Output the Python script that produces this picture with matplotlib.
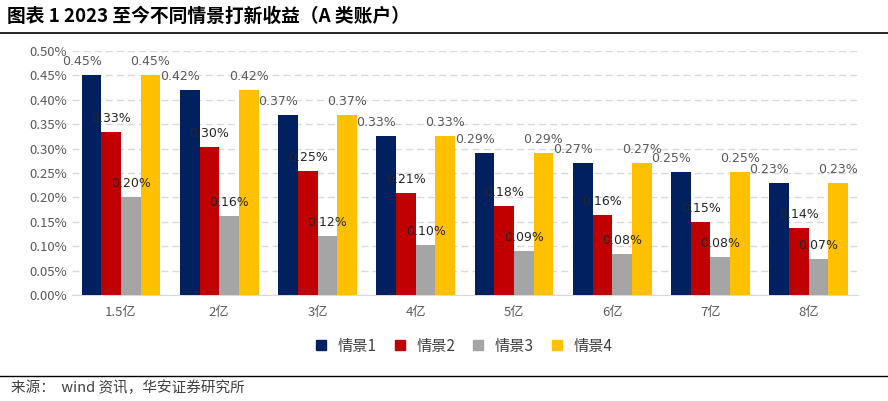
import matplotlib
matplotlib.use("Agg")
import matplotlib.pyplot as plt
import numpy as np
from matplotlib.ticker import FuncFormatter, MultipleLocator
from matplotlib.lines import Line2D

plt.rcParams['font.family'] = ['Noto Sans CJK SC', 'DejaVu Sans']

categories = ["1.5亿", "2亿", "3亿", "4亿", "5亿", "6亿", "7亿", "8亿"]
series_names = ["情景1", "情景2", "情景3", "情景4"]
s1 = [0.451, 0.420, 0.369, 0.326, 0.291, 0.270, 0.252, 0.229]
s2 = [0.334, 0.303, 0.254, 0.209, 0.182, 0.164, 0.149, 0.137]
s3 = [0.200, 0.162, 0.121, 0.102, 0.090, 0.084, 0.078, 0.074]
s4 = [0.451, 0.420, 0.369, 0.326, 0.291, 0.270, 0.252, 0.229]
colors = ["#002060", "#C00000", "#A5A5A5", "#FFC000"]

fig = plt.figure(figsize=(8.88, 4.01), dpi=100)
ax = fig.add_axes([0.081, 0.264, 0.885, 0.609])

x = np.arange(len(categories))
w = 0.2
all_series = [s1, s2, s3, s4]
for i, (vals, c) in enumerate(zip(all_series, colors)):
    pos = x + (i - 1.5) * w
    ax.bar(pos, vals, width=w, color=c, label=series_names[i], zorder=3)
    for p, v in zip(pos, vals):
        dx = -0.1 if i == 0 else 0.0
        col = "#595959" if i in (0, 3) else "#262626"
        ax.text(p + dx, v + 0.015, f"{v:.2f}%", ha="center", va="bottom",
                fontsize=9, color=col, zorder=4, family=['DejaVu Sans'])

ax.set_xlim(-0.5, len(categories) - 0.5)
ax.set_ylim(0, 0.5)
ax.yaxis.set_major_locator(MultipleLocator(0.05))
ax.yaxis.set_major_formatter(FuncFormatter(lambda v, p: f"{v:.2f}%"))
ax.set_xticks(x)
ax.set_xticklabels(categories)
ax.tick_params(axis="both", length=0, labelsize=9.5, colors="#595959")
ax.tick_params(axis="x", pad=8)
ax.grid(axis="y", linestyle=(0, (5, 3)), color="#D9D9D9", linewidth=1, zorder=0)
for sp in ["top", "right", "left"]:
    ax.spines[sp].set_visible(False)
ax.spines["bottom"].set_color("#D9D9D9")

handles = [Line2D([0], [0], marker="s", linestyle="none", markersize=7,
                  markerfacecolor=c, markeredgecolor=c) for c in colors]
fig.legend(handles, series_names, loc="center", bbox_to_anchor=(0.517, 0.137),
           ncol=4, frameon=False, fontsize=11, handletextpad=0.1, columnspacing=0.5,
           labelcolor="#404040")

fig.text(0.008, 0.958, "图表 1 2023 至今不同情景打新收益（A 类账户）", fontsize=13.5,
         fontweight="bold", va="center", ha="left", color="#000000")
fig.add_artist(Line2D([0.0, 1.0], [0.918, 0.918], color="#000000", linewidth=1.2))
fig.add_artist(Line2D([0.0, 1.0], [0.063, 0.063], color="#000000", linewidth=1.0))
fig.text(0.012, 0.032, "来源：  wind 资讯，华安证券研究所", fontsize=10.5,
         va="center", ha="left", color="#404040")

fig.savefig("out.png", dpi=100)
